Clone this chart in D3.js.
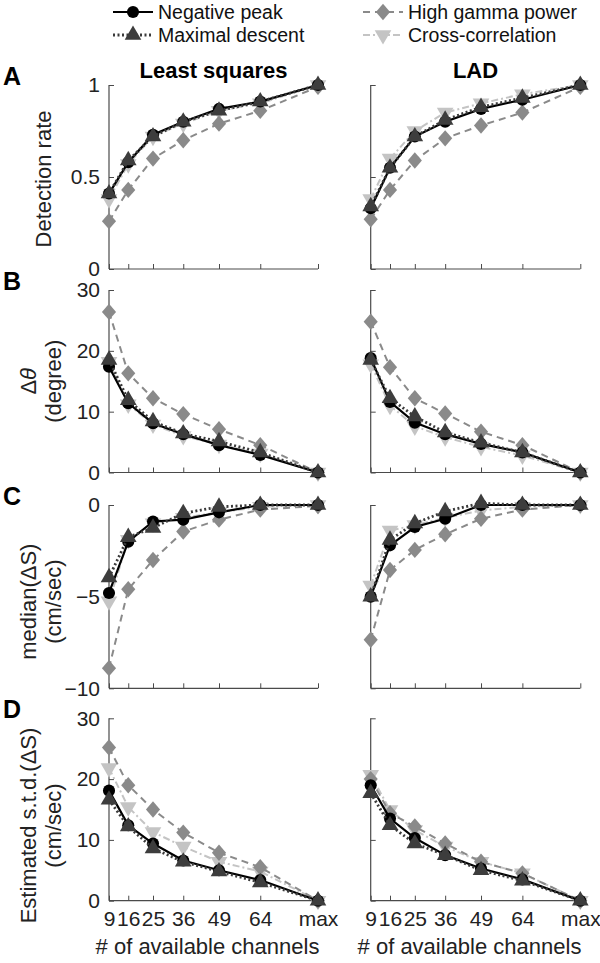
<!DOCTYPE html>
<html>
<head>
<meta charset="utf-8">
<script src="https://cdn.jsdelivr.net/npm/d3@7"></script>
<style>
  body { margin: 0; background: #fff; }
  svg { display: block; font-family: "Liberation Sans", Arial, sans-serif; }
</style>
</head>
<body>
<svg id="chart" width="600" height="963"></svg>
<script>
/*
** Data
 */

var channels = [9, 16, 25, 36, 49, 64, 85];
var channelLabels = ['9', '16', '25', '36', '49', '64', 'max'];
var seriesNames = ['Negative peak', 'Maximal descent', 'High gamma power', 'Cross-correlation'];

// A - detection rate
var detLS_neg   = [0.41, 0.58, 0.73, 0.80, 0.87, 0.91, 1.00];
var detLS_max   = [0.41, 0.59, 0.72, 0.80, 0.86, 0.91, 1.00];
var detLS_gamma = [0.26, 0.43, 0.60, 0.70, 0.79, 0.86, 0.99];
var detLS_xcorr = [0.38, 0.57, 0.72, 0.79, 0.86, 0.90, 1.00];
var detLAD_neg   = [0.33, 0.55, 0.72, 0.80, 0.87, 0.92, 1.00];
var detLAD_max   = [0.34, 0.55, 0.72, 0.81, 0.88, 0.93, 1.00];
var detLAD_gamma = [0.27, 0.43, 0.59, 0.71, 0.78, 0.85, 0.99];
var detLAD_xcorr = [0.38, 0.60, 0.75, 0.85, 0.90, 0.95, 1.00];

// B - delta theta (degree)
var thLS_neg   = [17.4, 11.4, 8.1, 6.3, 4.5, 2.9, 0];
var thLS_max   = [18.5, 11.9, 8.4, 6.4, 5.1, 3.3, 0];
var thLS_gamma = [26.4, 16.3, 12.2, 9.6, 7.1, 4.5, 0];
var thLS_xcorr = [18.2, 11.2, 7.9, 6.0, 4.6, 3.1, 0];
var thLAD_neg   = [18.8, 11.6, 8.2, 6.3, 4.7, 3.3, 0];
var thLAD_max   = [18.5, 12.2, 9.2, 6.6, 4.9, 3.3, 0];
var thLAD_gamma = [24.8, 17.3, 12.2, 9.7, 6.7, 4.5, 0];
var thLAD_xcorr = [17.8, 11.0, 7.6, 5.8, 4.2, 2.8, 0];

// C - median(delta S) (cm/sec)
var medLS_neg   = [-4.8, -2.0, -0.9, -0.8, -0.4, 0, 0];
var medLS_max   = [-3.95, -1.75, -1.25, -0.45, -0.1, 0, 0];
var medLS_gamma = [-8.9, -4.6, -3.0, -1.45, -0.8, -0.25, -0.05];
var medLS_xcorr = [-5.25, -1.9, -1.0, -0.7, -0.4, -0.1, 0];
var medLAD_neg   = [-5.0, -2.2, -1.2, -0.75, 0, 0, 0];
var medLAD_max   = [-5.0, -1.9, -1.0, -0.35, 0.1, 0, 0];
var medLAD_gamma = [-7.35, -3.55, -2.45, -1.6, -0.75, -0.25, 0];
var medLAD_xcorr = [-4.4, -1.4, -1.1, -0.7, -0.3, -0.1, 0];

// D - estimated s.t.d.(delta S) (cm/sec)
var sdLS_neg   = [18.1, 12.4, 9.4, 6.6, 5.0, 3.4, 0];
var sdLS_max   = [16.6, 12.2, 8.6, 6.4, 4.8, 3.0, 0];
var sdLS_gamma = [25.2, 19.0, 15.0, 11.2, 7.9, 5.5, 0];
var sdLS_xcorr = [21.8, 15.4, 11.3, 8.9, 6.4, 4.8, 0];
var sdLAD_neg   = [19.0, 13.5, 10.3, 7.5, 5.3, 3.5, 0];
var sdLAD_max   = [17.7, 12.4, 9.4, 7.5, 5.0, 3.3, 0];
var sdLAD_gamma = [20.0, 14.4, 12.2, 9.4, 6.4, 4.5, 0];
var sdLAD_xcorr = [20.7, 14.9, 11.6, 8.9, 6.4, 4.5, 0];

var yTicksA = [0, 0.5, 1];
var yTicksB = [0, 10, 20, 30];
var yTicksC = [-10, -5, 0];
var yTicksD = [0, 10, 20, 30];

/*
** Styles
 */

var styles = [
    { line: '#000', width: 2.2, dash: null, fill: '#000', marker: 'circle' },
    { line: '#3a3a3a', width: 2.8, dash: '2,2.5', fill: '#3d3d3d', marker: 'triangle' },
    { line: '#8a8a8a', width: 2, dash: '7,5', fill: '#8a8a8a', marker: 'diamond' },
    { line: '#c4c4c4', width: 2, dash: '7,3,2,3', fill: '#c4c4c4', marker: 'triangleDown' }
];
// drawing order: lightest under, black and triangle on top
var drawOrder = [3, 2, 0, 1];

var diamond = {
    draw: function (ctx, size) {
        var w = Math.sqrt(size) * 0.62, h = Math.sqrt(size) * 0.72;
        ctx.moveTo(0, -h); ctx.lineTo(w, 0); ctx.lineTo(0, h); ctx.lineTo(-w, 0); ctx.closePath();
    }
};

function markerPath(kind) {
    if (kind == 'circle') return d3.symbol(d3.symbolCircle, 115)();
    if (kind == 'diamond') return d3.symbol(diamond, 130)();
    return d3.symbol(d3.symbolTriangle, 120)();
}

/*
** Layout
 */

var svg = d3.select('#chart');
var cols = [
    { x0: 109, x1: 318 },
    { x0: 370.7, x1: 580.3 }
];
var rows = [
    { y0: 85, y1: 269, letter: 'A', ticks: yTicksA, domain: [0, 1], fmt: function (d) { return d == 0.5 ? '0.5' : d; },
      label: ['Detection rate'], shift: 2, data: [[detLS_neg, detLS_max, detLS_gamma, detLS_xcorr], [detLAD_neg, detLAD_max, detLAD_gamma, detLAD_xcorr]] },
    { y0: 290, y1: 472.5, letter: 'B', ticks: yTicksB, domain: [0, 30], fmt: d3.format('d'),
      label: ['\u0394\u03b8', '(degree)'], shift: 0, data: [[thLS_neg, thLS_max, thLS_gamma, thLS_xcorr], [thLAD_neg, thLAD_max, thLAD_gamma, thLAD_xcorr]] },
    { y0: 505, y1: 688.3, letter: 'C', ticks: yTicksC, domain: [-10, 0], fmt: d3.format('d'),
      label: ['median(\u0394S)', '(cm/sec)'], shift: 5, data: [[medLS_neg, medLS_max, medLS_gamma, medLS_xcorr], [medLAD_neg, medLAD_max, medLAD_gamma, medLAD_xcorr]] },
    { y0: 718.3, y1: 900.7, letter: 'D', ticks: yTicksD, domain: [0, 30], fmt: d3.format('d'),
      label: ['Estimated s.t.d.(\u0394S)', '(cm/sec)'], shift: 16, data: [[sdLS_neg, sdLS_max, sdLS_gamma, sdLS_xcorr], [sdLAD_neg, sdLAD_max, sdLAD_gamma, sdLAD_xcorr]] }
];
var titles = ['Least squares', 'LAD'];
var axisColor = '#4a4a4a';

rows.forEach(function (row, ri) {
    // panel letter
    svg.append('text')
        .attr('x', 3).attr('y', row.y0)
        .attr('font-size', 25).attr('font-weight', 'bold')
        .text(row.letter);

    // y label (one or two lines)
    var ymid = (row.y0 + row.y1) / 2 + row.shift;
    var lx = row.label.length == 1 ? [51] : [36, 61];
    row.label.forEach(function (txt, li) {
        var t = svg.append('text')
            .attr('transform', 'translate(' + lx[li] + ',' + ymid + ') rotate(-90)')
            .attr('text-anchor', 'middle')
            .attr('font-size', 22)
            .attr('fill', '#222');
        if (txt == '\u0394\u03b8') {
            t.append('tspan').text('\u0394');
            t.append('tspan').attr('font-style', 'italic').text('\u03b8');
        } else {
            t.text(txt);
        }
    });

    cols.forEach(function (col, ci) {
        var x = d3.scaleLinear().domain([channels[0], channels[channels.length - 1]]).range([col.x0, col.x1]);
        var y = d3.scaleLinear().domain(row.domain).range([row.y1, row.y0]);
        var g = svg.append('g');

        // axes (MATLAB style, ticks inside, box off)
        var xAxis = d3.axisBottom(x).tickValues(channels).tickSize(-5).tickPadding(10)
            .tickFormat(function (d, i) { return ri == rows.length - 1 ? channelLabels[i] : ''; });
        var gx = g.append('g').attr('transform', 'translate(0,' + row.y1 + ')').call(xAxis);
        var yAxis = d3.axisLeft(y).tickValues(row.ticks).tickSize(-5).tickPadding(9)
            .tickFormat(function (d) { return ci == 0 ? row.fmt(d) : ''; });
        var gy = g.append('g').attr('transform', 'translate(' + col.x0 + ',0)').call(yAxis);
        [gx, gy].forEach(function (a) {
            a.select('.domain').attr('stroke', axisColor).attr('stroke-width', 1.2)
                .attr('d', a === gx ? 'M' + col.x0 + ',0H' + col.x1 : 'M0,' + row.y1 + 'V' + row.y0);
            a.selectAll('.tick line').attr('stroke', axisColor);
            a.selectAll('.tick text').attr('font-size', 21).attr('fill', '#222')
                .attr('font-family', '"Liberation Sans", Arial, sans-serif');
        });

        if (ri == 0) {
            svg.append('text')
                .attr('x', (col.x0 + col.x1) / 2).attr('y', row.y0 - 7)
                .attr('text-anchor', 'middle').attr('font-size', 22).attr('font-weight', 'bold')
                .text(titles[ci]);
        }
        if (ri == rows.length - 1) {
            svg.append('text')
                .attr('x', (col.x0 + col.x1) / 2 - 6).attr('y', 954)
                .attr('text-anchor', 'middle').attr('font-size', 22).attr('fill', '#222')
                .text('# of available channels');
        }

        var line = d3.line().x(function (d, i) { return x(channels[i]); }).y(function (d) { return y(d); });
        drawOrder.forEach(function (si) {
            var st = styles[si];
            var vals = row.data[ci][si];
            g.append('path')
                .attr('d', line(vals))
                .attr('fill', 'none')
                .attr('stroke', st.line)
                .attr('stroke-width', st.width)
                .attr('stroke-dasharray', st.dash);
            g.selectAll('.m' + si).data(vals).enter().append('path')
                .attr('class', 'm' + si)
                .attr('d', markerPath(st.marker))
                .attr('transform', function (d, i) {
                    return 'translate(' + x(channels[i]) + ',' + y(d) + ')' + (st.marker == 'triangleDown' ? ' rotate(180)' : '');
                })
                .attr('fill', st.fill);
        });
    });
});

/*
** Legend
 */

var legendPos = [
    { x: 113, y: 12 }, { x: 113, y: 35 },
    { x: 363, y: 12 }, { x: 363, y: 35 }
];
seriesNames.forEach(function (name, si) {
    var st = styles[si];
    var p = legendPos[si];
    var lg = svg.append('g').attr('transform', 'translate(' + p.x + ',' + p.y + ')');
    lg.append('line')
        .attr('x1', 0).attr('x2', 40).attr('y1', 0).attr('y2', 0)
        .attr('stroke', st.line).attr('stroke-width', st.width).attr('stroke-dasharray', st.dash);
    lg.append('path')
        .attr('d', markerPath(st.marker))
        .attr('transform', 'translate(20,0)' + (st.marker == 'triangleDown' ? ' rotate(180)' : ''))
        .attr('fill', st.fill);
    lg.append('text')
        .attr('x', 45).attr('y', 0).attr('dy', '0.35em')
        .attr('font-size', 19.5).attr('fill', '#111')
        .text(name);
});
</script>
</body>
</html>
